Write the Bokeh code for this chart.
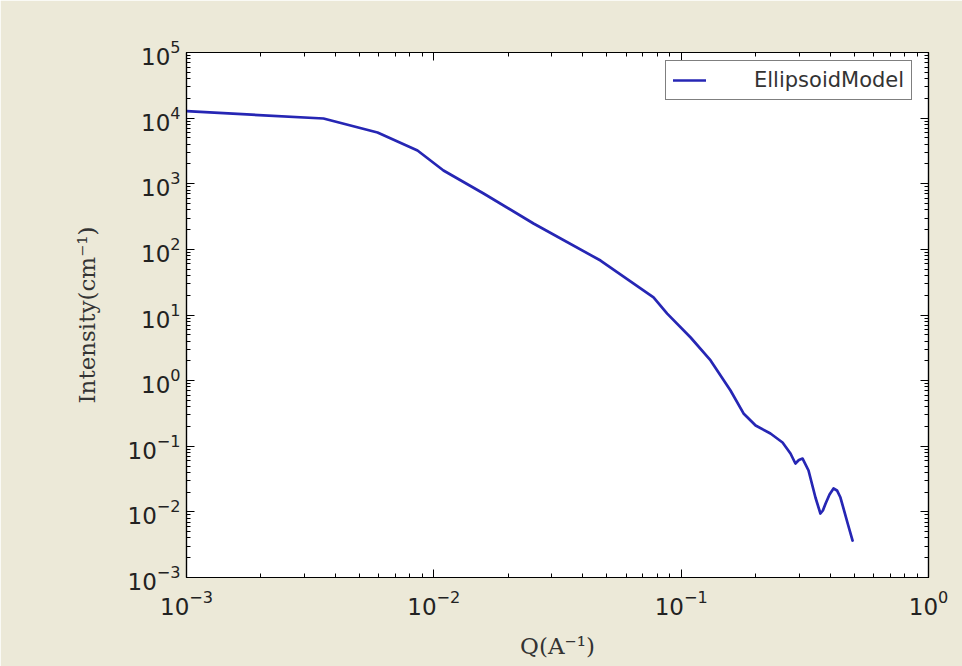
from bokeh.plotting import figure
from bokeh.models import LogAxis, FixedTicker, CustomJSTickFormatter
from bokeh.embed import file_html
from bokeh.resources import INLINE

# Data
q = [0.001, 0.00358, 0.00592, 0.00859, 0.01094, 0.01589, 0.02529, 0.0472, 0.0773,
     0.0878, 0.1092, 0.1315, 0.1583, 0.1787, 0.2, 0.2296, 0.257, 0.2767, 0.2897,
     0.2992, 0.3097, 0.3273, 0.3491, 0.3656, 0.3741, 0.3837, 0.398, 0.413, 0.4266,
     0.4406, 0.4713, 0.4932]
intensity = [12760, 9870, 6040, 3210, 1590, 710, 248, 67.6, 18.5,
             10.5, 4.54, 2.03, 0.708, 0.316, 0.207, 0.1563, 0.114, 0.0776, 0.0546,
             0.0617, 0.065, 0.0427, 0.01655, 0.00944, 0.0105, 0.01342, 0.0184, 0.0227, 0.0212,
             0.01655, 0.00665, 0.00366]
series_name = "EllipsoidModel"
x_title = "Q(A\u207b\u00b9)"
y_title = "Intensity(cm\u207b\u00b9)"

x_exponents = [-3, -2, -1, 0]
y_exponents = [-3, -2, -1, 0, 1, 2, 3, 4, 5]
x_major = [10.0 ** e for e in x_exponents]
y_major = [10.0 ** e for e in y_exponents]
x_minor = [m * 10.0 ** e for e in x_exponents[:-1] for m in range(2, 10)]
y_minor = [m * 10.0 ** e for e in y_exponents[:-1] for m in range(2, 10)]

BG = "#ece9d8"
TXT = "#222222"
FW, FH = 742, 525

p = figure(frame_width=FW, frame_height=FH,
           x_axis_type="log", y_axis_type="log",
           x_range=(x_major[0], x_major[-1]), y_range=(y_major[0], y_major[-1]),
           output_backend="svg", toolbar_location=None,
           min_border_left=186, min_border_right=34,
           min_border_top=52, min_border_bottom=89,
           background_fill_color="white", border_fill_color=BG,
           outline_line_color="black", outline_line_width=1.2)
p.grid.visible = False

p.line(q, intensity, color="#2626b4", line_width=2.7, line_join="round",
       line_cap="round", legend_label=series_name)

xaxis_main = p.below[0]
yaxis_main = p.left[0]

def style_axis(ax, ticks, minors, labels=True):
    ax.ticker = FixedTicker(ticks=ticks, minor_ticks=minors)
    ax.major_tick_in = 8
    ax.major_tick_out = 0
    ax.minor_tick_in = 4
    ax.minor_tick_out = 0
    ax.axis_line_color = "black"
    ax.axis_line_width = 1.2
    ax.major_tick_line_color = "black"
    ax.minor_tick_line_color = "black"
    ax.major_label_text_font = "DejaVu Sans"
    ax.major_label_text_font_size = "23px"
    ax.major_label_text_color = TXT
    if not labels:
        ax.formatter = CustomJSTickFormatter(code="return ''")

style_axis(xaxis_main, x_major, x_minor)
style_axis(yaxis_main, y_major, y_minor)
xaxis_main.major_label_standoff = 12
yaxis_main.major_label_standoff = 6

right_ax = LogAxis()
top_ax = LogAxis()
style_axis(right_ax, y_major, y_minor, labels=False)
style_axis(top_ax, x_major, x_minor, labels=False)
p.add_layout(right_ax, "right")
p.add_layout(top_ax, "above")

for ax, lab in ((xaxis_main, x_title), (yaxis_main, y_title)):
    ax.axis_label = lab
    ax.axis_label_text_font = "DejaVu Serif"
    ax.axis_label_text_font_size = "23px"
    ax.axis_label_text_font_style = "normal"
    ax.axis_label_text_color = "#333333"
xaxis_main.axis_label_standoff = 15
yaxis_main.axis_label_standoff = 25

lg = p.legend[0]
lg.location = (FW - 12 - 251, FH - 10 - 38)
lg.margin = 0
lg.padding = 7
lg.border_line_color = "black"
lg.border_line_width = 1.5
lg.background_fill_color = "white"
lg.background_fill_alpha = 1.0
lg.glyph_width = 33
lg.label_standoff = 48
lg.label_text_font = "DejaVu Sans"
lg.label_text_font_size = "21px"
lg.label_text_color = "#333333"

open("out.html", "w").write(file_html(p, INLINE))
